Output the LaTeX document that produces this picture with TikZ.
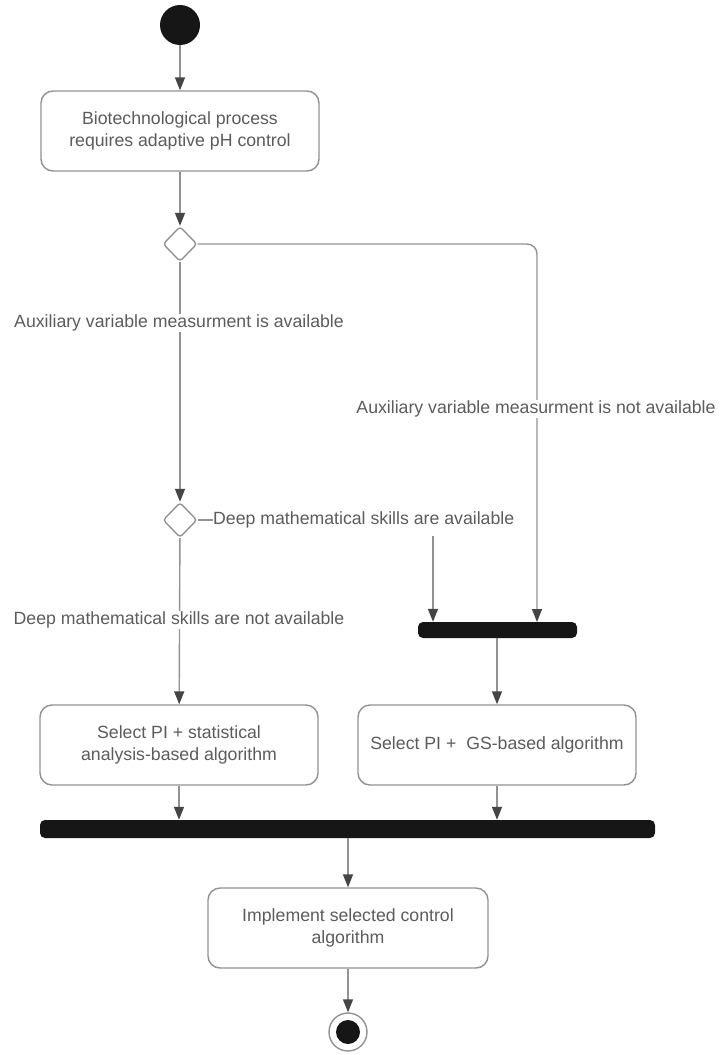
\documentclass[tikz,border=0pt]{standalone}
\usepackage{fontspec}
\setmainfont{Liberation Sans}
\usetikzlibrary{arrows.meta,shapes.geometric}
\definecolor{ln}{HTML}{929292}
\definecolor{tip}{HTML}{454545}
\definecolor{txt}{HTML}{5C5C5C}
\definecolor{blk}{HTML}{161616}
\begin{document}
\begin{tikzpicture}[x=1pt,y=-1pt,
  every node/.style={font=\fontsize{17.7}{21.5}\selectfont, text=txt},
  act/.style={draw=ln, line width=1.4pt, rounded corners=12pt, fill=white, minimum width=278pt, minimum height=80pt, align=center, inner sep=2pt},
  dec/.style={draw=ln, line width=1.4pt, diamond, minimum width=34pt, minimum height=35pt, inner sep=0pt, rounded corners=3pt, fill=white},
  barnode/.style={fill=blk, rounded corners=5pt, inner sep=0pt},
  flow/.style={draw=ln, line width=1.4pt, -{Triangle[length=13pt,width=10pt,fill=tip,color=tip]}},
  plain/.style={draw=ln, line width=1.4pt},
  lbl/.style={fill=white, inner sep=1pt}]
\useasboundingbox (0,0) rectangle (720,1055);
\fill[white] (0,0) rectangle (720,1055);
% nodes
\node[circle, fill=blk, minimum size=40pt, inner sep=0pt] (start) at (180,25) {};
\node[act] (b1) at (180,131) {Biotechnological process\\requires adaptive pH control};
\node[dec] (d1) at (180,244) {};
\node[dec] (d2) at (180,520) {};
\node[barnode, minimum width=159pt, minimum height=16pt] (bar1) at (497.5,630) {};
\node[act] (b2) at (179,745) {Select PI + statistical\\analysis-based algorithm};
\node[act] (b3) at (497,745) {Select PI +\ \ GS-based algorithm};
\node[barnode, minimum width=615pt, minimum height=18pt] (bar2) at (347.5,829) {};
\node[act, minimum width=280pt] (b4) at (348,928) {Implement selected control\\algorithm};
\node[circle, draw=ln, line width=1.4pt, fill=white, minimum size=38pt, inner sep=0pt] (end) at (348,1032) {};
\node[circle, fill=blk, minimum size=24pt, inner sep=0pt] at (end) {};
% connectors
\draw[flow] (start) -- (b1);
\draw[flow] (b1) -- (d1);
\draw[flow] (d1) -- (d2);
\draw[flow] (d2) -- (b2);
\draw[flow, rounded corners=10pt] (d1.east) -- (537,244) -- (537,622);
\node[lbl] (l1) at (179,323) {Auxiliary variable measurment is available};
\node[lbl] (l2) at (536,409) {Auxiliary variable measurment is not available};
\node[lbl, anchor=west, inner sep=0pt] (l3) at (213,520) {Deep mathematical skills are available};
\node[lbl] (l4) at (179,620) {Deep mathematical skills are not available};
\draw[plain] (d2.east) -- (l3.west);
\coordinate (c3) at (433,536);
\draw[flow] (c3) -- (c3 |- bar1.north);
\draw[flow] (bar1.south -| b3) -- (b3.north);
\draw[flow] (b2.south) -- (b2.south |- bar2.north);
\draw[flow] (b3.south) -- (b3.south |- bar2.north);
\draw[flow] (bar2.south -| b4) -- (b4.north);
\draw[flow] (b4) -- (end);
\end{tikzpicture}
\end{document}
